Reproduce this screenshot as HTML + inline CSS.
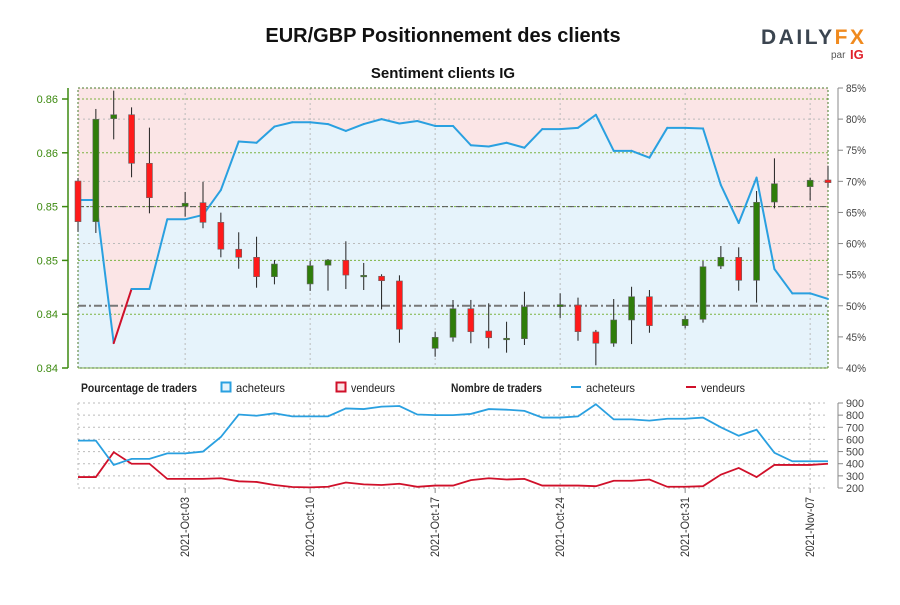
<!DOCTYPE html>
<html><head><meta charset="utf-8"><style>
body{margin:0;background:#fff;width:900px;height:600px;overflow:hidden;font-family:"Liberation Sans",sans-serif}
svg text{font-family:"Liberation Sans",sans-serif}
</style></head><body>
<svg id="chart" width="900" height="600" viewBox="0 0 900 600" xmlns="http://www.w3.org/2000/svg">
<text x="443" y="42" text-anchor="middle" font-size="20" font-weight="bold" fill="#111">EUR/GBP Positionnement des clients</text>
<text x="443" y="78" text-anchor="middle" font-size="15" font-weight="bold" fill="#111">Sentiment clients IG</text>
<g>
<text x="761" y="44" font-size="21" font-weight="bold" textLength="103" lengthAdjust="spacing" fill="#3b4550">DAILY<tspan fill="#f08a1e">FX</tspan></text>
<text x="831" y="58" font-size="10" fill="#555">par</text>
<text x="850" y="59" font-size="13" font-weight="bold" fill="#e0202a">IG</text>
</g>
<g id="main"></g>
<g id="legend">
<text x="81" y="392" font-size="12" font-weight="bold" fill="#222" textLength="116" lengthAdjust="spacingAndGlyphs">Pourcentage de traders</text>
<rect x="221.5" y="382.5" width="9" height="9" fill="#e6f3fb" stroke="#2aa0e0" stroke-width="2"/>
<text x="236" y="392" font-size="12" fill="#222" textLength="49" lengthAdjust="spacingAndGlyphs">acheteurs</text>
<rect x="336.5" y="382.5" width="9" height="9" fill="#fbe5e6" stroke="#d0102a" stroke-width="2"/>
<text x="351" y="392" font-size="12" fill="#222" textLength="44" lengthAdjust="spacingAndGlyphs">vendeurs</text>
<text x="451" y="392" font-size="12" font-weight="bold" fill="#222" textLength="91" lengthAdjust="spacingAndGlyphs">Nombre de traders</text>
<line x1="571" y1="387" x2="581" y2="387" stroke="#2aa0e0" stroke-width="2"/>
<text x="586" y="392" font-size="12" fill="#222" textLength="49" lengthAdjust="spacingAndGlyphs">acheteurs</text>
<line x1="686" y1="387" x2="696" y2="387" stroke="#d0102a" stroke-width="2"/>
<text x="701" y="392" font-size="12" fill="#222" textLength="44" lengthAdjust="spacingAndGlyphs">vendeurs</text>
</g>
<g id="lower"></g>
</svg>
<script>
const NS="http://www.w3.org/2000/svg";
// ---- data ----
const buyerPct=[67.0,67.0,44.0,52.7,52.7,63.9,63.9,64.6,68.6,76.4,76.2,78.8,79.5,79.5,79.2,78.1,79.2,80.0,79.3,79.7,78.9,78.9,75.8,75.6,76.2,75.4,78.4,78.4,78.6,80.7,74.9,74.9,73.8,78.6,78.6,78.5,69.4,63.3,70.6,55.9,52.0,52.0,51.1];
const openP=[0.85390,0.85088,0.85854,0.85883,0.85522,null,0.85202,0.85229,0.85083,0.84883,0.84823,0.84679,null,0.84625,0.84764,0.84801,0.84689,0.84682,0.84647,null,0.84146,0.84228,0.84441,0.84275,0.84221,0.84218,null,0.84456,0.84468,0.84268,0.84184,0.84357,0.84530,null,0.84315,0.84362,0.84758,0.84823,0.84652,0.85234,null,0.85348,0.85398];
const closeP=[0.85088,0.85849,0.85883,0.85522,0.85266,null,0.85225,0.85083,0.84883,0.84823,0.84679,0.84773,null,0.84761,0.84803,0.84691,0.84689,0.84649,0.84288,null,0.84228,0.84441,0.84270,0.84225,0.84221,0.84456,null,0.84471,0.84270,0.84184,0.84357,0.84530,0.84315,null,0.84362,0.84753,0.84823,0.84652,0.85232,0.85370,null,0.85396,0.85378];
const highP=[0.85413,0.85926,0.86062,0.85938,0.85787,null,0.85309,0.85385,0.85155,0.85009,0.84976,0.84803,null,0.84796,0.84810,0.84942,0.84781,0.84697,0.84689,null,0.84270,0.84506,0.84506,0.84481,0.84344,0.84567,null,0.84555,0.84523,0.84283,0.84513,0.84604,0.84580,null,0.84389,0.84796,0.84907,0.84897,0.85316,0.85559,null,0.85415,0.85504];
const lowP=[0.85013,0.85004,0.85700,0.85418,0.85150,null,0.85125,0.85039,0.84823,0.84738,0.84597,0.84622,null,0.84573,0.84575,0.84587,0.84580,0.84436,0.84188,null,0.84084,0.84196,0.84184,0.84146,0.84114,0.84171,null,0.84372,0.84203,0.84020,0.84158,0.84178,0.84262,null,0.84295,0.84337,0.84736,0.84575,0.84486,0.85187,null,0.85244,0.85344];
const buyersCount=[590,590,390,440,440,485,485,500,620,805,795,815,790,790,790,855,850,870,875,805,800,800,810,850,845,835,780,780,790,890,765,765,755,770,770,780,700,630,680,490,420,420,420];
const sellersCount=[290,290,495,400,400,275,275,275,280,255,250,225,208,205,210,245,230,225,235,210,220,220,265,280,270,275,220,220,220,215,260,260,270,210,210,215,310,365,290,390,390,390,400];
const priceTicks=[0.860,0.856,0.852,0.848,0.844,0.840];
const priceTickLabels=["0.86","0.86","0.85","0.85","0.84","0.84"];
const pctTicks=[85,80,75,70,65,60,55,50,45,40];
const countTicks=[900,800,700,600,500,400,300,200];
const dateTickIdx=[6,13,20,27,34,41];
const dateTickLabels=["2021-Oct-03","2021-Oct-10","2021-Oct-17","2021-Oct-24","2021-Oct-31","2021-Nov-07"];
const priceRefLevel=0.852;
// ---- scales ----
const X0=78,X1=828,N=buyerPct.length;
const xS=i=>X0+(X1-X0)*i/(N-1);
const T=88,B=368;
const pctY=p=>B-(p-40)/45*(B-T);
const priceY=p=>368-(p-0.84)/0.02*269;
const LT=403,LB=488;
const cntY=v=>LB-(v-200)/700*(LB-LT);
function mk(parent,tag,attrs){const e=document.createElementNS(NS,tag);for(const k in attrs)e.setAttribute(k,attrs[k]);parent.appendChild(e);return e;}
const main=document.getElementById('main');
let r=mk(main,'rect',{x:X0,y:T,width:X1-X0,height:B-T,fill:'#fbe5e6'});


let d='M'+X0+','+B;
buyerPct.forEach((p,i)=>{d+=' L'+xS(i)+','+pctY(p);});
d+=' L'+X1+','+B+' Z';
let a=mk(main,'path',{d:d,fill:'#e6f3fb'});


pctTicks.forEach(p=>{if(p%10===0&&p!==40&&p!==50){let l=mk(main,'line',{x1:X0,x2:X1,y1:pctY(p),y2:pctY(p),stroke:'#bbb','stroke-dasharray':'2,3'});}});
priceTicks.forEach(p=>{let l=mk(main,'line',{x1:X0,x2:X1,y1:priceY(p),y2:priceY(p),stroke:'#7cb342','stroke-dasharray':'2,2'});});
dateTickIdx.forEach(i=>{let l=mk(main,'line',{x1:xS(i),x2:xS(i),y1:T,y2:B,stroke:'#bbb','stroke-dasharray':'2,3'});});
let bx=mk(main,'rect',{x:X0,y:T,width:X1-X0,height:B-T,fill:'none',stroke:'#4a7a2a','stroke-dasharray':'2,2'});


let r65=mk(main,'line',{x1:X0,x2:X1,y1:priceY(priceRefLevel),y2:priceY(priceRefLevel),stroke:'#555','stroke-dasharray':'6,3,2,3'});


let r50=mk(main,'line',{x1:X0,x2:X1,y1:pctY(50),y2:pctY(50),stroke:'#777','stroke-width':2,'stroke-dasharray':'8,3,2,3'});


for(let i=0;i<N-1;i++){
 let s=mk(main,'line',{x1:xS(i),y1:pctY(buyerPct[i]),x2:xS(i+1),y2:pctY(buyerPct[i+1]),stroke:buyerPct[i]<50?'#d0102a':'#2aa0e0','stroke-width':2,'stroke-linecap':'round'});
 
 
}
for(let i=0;i<N;i++){
 if(openP[i]===null)continue;
 const up=closeP[i]>=openP[i];
 let w=mk(main,'line',{x1:xS(i),x2:xS(i),y1:priceY(highP[i]),y2:priceY(lowP[i]),stroke:'#222','stroke-width':1});
 
 
 const yt=priceY(Math.max(openP[i],closeP[i])),yb=priceY(Math.min(openP[i],closeP[i]));
 let c=mk(main,'rect',{x:xS(i)-3,y:yt,width:6,height:Math.max(1.5,yb-yt),fill:up?'#2f7d0a':'#ff1a1a',stroke:'#666','stroke-width':0.6});
 
 
}
let la=mk(main,'line',{x1:68,x2:68,y1:T,y2:B,stroke:'#3d8a10','stroke-width':1.5});


priceTicks.forEach((p,k)=>{
 let t=mk(main,'line',{x1:62,x2:68,y1:priceY(p),y2:priceY(p),stroke:'#3d8a10','stroke-width':1.5});
 
 
 let tx=mk(main,'text',{x:58,y:priceY(p)+4,'text-anchor':'end','font-size':11,fill:'#3d8a10'});
 tx.textContent=priceTickLabels[k];
 
 
});
let ra=mk(main,'line',{x1:838,x2:838,y1:T,y2:B,stroke:'#888'});


pctTicks.forEach(p=>{
 let t=mk(main,'line',{x1:838,x2:843,y1:pctY(p),y2:pctY(p),stroke:'#888'});
 
 
 let tx=mk(main,'text',{x:846,y:pctY(p)+4,'font-size':11,fill:'#444',textLength:20,lengthAdjust:'spacingAndGlyphs'});
 tx.textContent=p+'%';
 
 
});
const low=document.getElementById('lower');
countTicks.forEach(v=>{let l=mk(low,'line',{x1:X0,x2:X1,y1:cntY(v),y2:cntY(v),stroke:'#bbb','stroke-dasharray':'2,3'});});
dateTickIdx.forEach(i=>{let l=mk(low,'line',{x1:xS(i),x2:xS(i),y1:LT,y2:LB,stroke:'#bbb','stroke-dasharray':'2,3'});});
let lb=mk(low,'line',{x1:X0,x2:X0,y1:LT,y2:LB,stroke:'#bbb','stroke-dasharray':'2,3'});


function poly(arr,col,name){
 let pts=arr.map((v,i)=>xS(i)+','+cntY(v)).join(' ');
 let p=mk(low,'polyline',{points:pts,fill:'none',stroke:col,'stroke-width':1.8});
 
 
}
poly(sellersCount,'#d0102a','sellers-count-line');
poly(buyersCount,'#2aa0e0','buyers-count-line');
let ra2=mk(low,'line',{x1:838,x2:838,y1:LT,y2:LB,stroke:'#888'});


countTicks.forEach(v=>{
 let t=mk(low,'line',{x1:838,x2:843,y1:cntY(v),y2:cntY(v),stroke:'#888'});
 
 
 let tx=mk(low,'text',{x:846,y:cntY(v)+4,'font-size':11,fill:'#444',textLength:18,lengthAdjust:'spacingAndGlyphs'});
 tx.textContent=v;
 
 
});
dateTickIdx.forEach((i,k)=>{
 let t=mk(low,'line',{x1:xS(i),x2:xS(i),y1:LB,y2:LB+5,stroke:'#888'});
 
 
 let tx=mk(low,'text',{x:xS(i)+4,y:LB+9,'font-size':12,fill:'#333','text-anchor':'end',textLength:60,lengthAdjust:'spacingAndGlyphs',transform:'rotate(-90 '+(xS(i)+4)+' '+(LB+9)+')'});
 tx.textContent=dateTickLabels[k];
 
 
});
</script>
</body></html>
